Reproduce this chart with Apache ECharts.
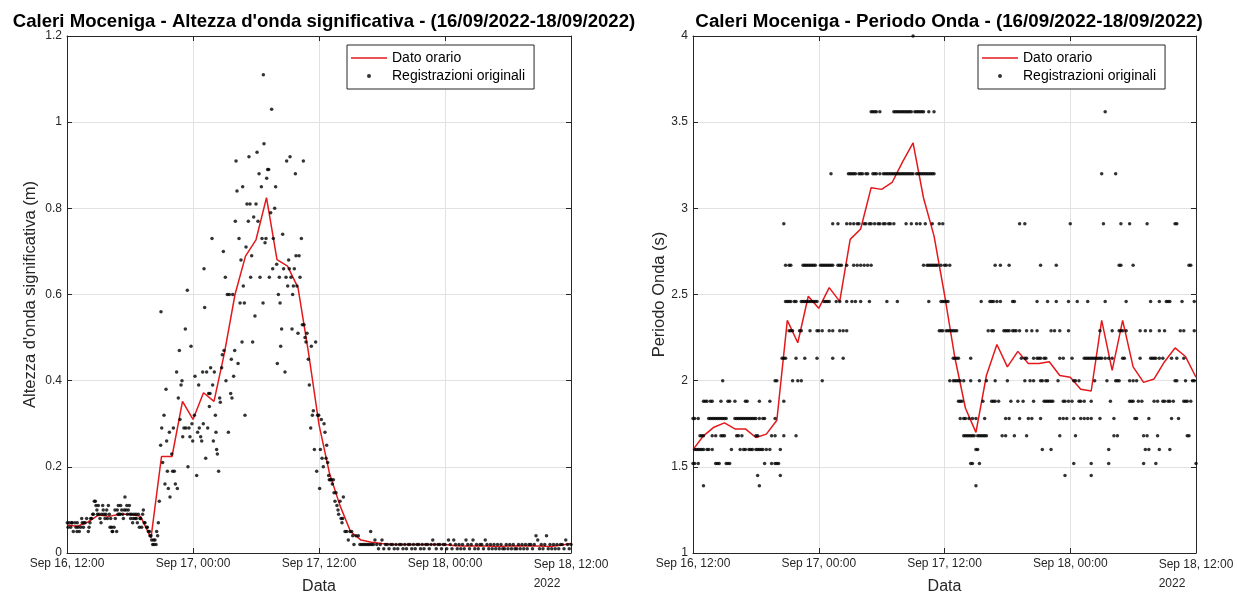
<!DOCTYPE html>
<html><head><meta charset="utf-8">
<script src="https://cdn.jsdelivr.net/npm/echarts@6/dist/echarts.min.js"></script>
<style>html,body{margin:0;padding:0;background:#fff}#c{width:1237px;height:592px}</style>
</head><body><div id="c"></div><script>
// ---------- DATA ----------
const titleLeft = "Caleri Moceniga - Altezza d'onda significativa - (16/09/2022-18/09/2022)";
const titleRight = "Caleri Moceniga - Periodo Onda - (16/09/2022-18/09/2022)";
const xTickLabels = ['Sep 16, 12:00', 'Sep 17, 00:00', 'Sep 17, 12:00', 'Sep 18, 00:00', 'Sep 18, 12:00'];
const yearLabel = '2022';
const seriesNames = ['Dato orario', 'Registrazioni originali'];

// hourly values, hour 0 = 16/09 12:00
const hsHourly = [0.065,0.062,0.072,0.088,0.085,0.09,0.09,0.085,0.035,0.224,0.224,0.352,0.31,0.372,0.352,0.465,0.60,0.689,0.727,0.825,0.681,0.666,0.616,0.465,0.298,0.185,0.11,0.05,0.03,0.025,0.022,0.02,0.02,0.02,0.02,0.02,0.02,0.017,0.016,0.016,0.016,0.015,0.016,0.017,0.016,0.016,0.015,0.018,0.022];
const tpHourly = [1.60,1.68,1.73,1.755,1.72,1.72,1.67,1.69,1.77,2.35,2.22,2.49,2.42,2.54,2.46,2.82,2.88,3.12,3.11,3.15,3.27,3.38,3.06,2.84,2.50,2.13,1.84,1.70,2.03,2.21,2.08,2.17,2.10,2.10,2.11,2.03,2.02,1.95,1.94,2.35,2.06,2.35,2.08,1.99,2.01,2.11,2.19,2.14,2.02];

// original records, significant height: [hour, value]
const hsEarly = [[0.03,.07],[0.1,.06],[0.22,.07],[0.35,.06],[0.44,.07],[0.5,.07],[0.6,.05],[0.76,.07],[0.86,.06],[0.95,.05],[0.98,.07],[1.05,.06],[1.17,.05],[1.3,.06],[1.4,.08],[1.45,.07],[1.56,.06],[1.6,.07],[1.71,.07],[1.87,.08],[2.03,.05],[2.1,.06],[2.19,.07],[2.25,.08],[2.35,.08],[2.45,.09],[2.51,.09],[2.6,.12],[2.7,.12],[2.76,.11],[2.85,.1],[2.89,.09],[2.98,.11],[3.05,.09],[3.14,.08],[3.24,.07],[3.3,.09],[3.4,.11],[3.45,.1],[3.52,.09],[3.62,.08],[3.7,.09],[3.78,.1],[3.85,.08],[3.94,.11],[4.03,.09],[4.1,.06],[4.16,.08],[4.25,.06],[4.3,.05],[4.35,.05],[4.48,.06],[4.57,.1],[4.6,.08],[4.73,.05],[4.79,.1],[4.85,.09],[4.89,.11],[4.98,.09],[5.05,.09],[5.11,.11],[5.21,.1],[5.3,.09],[5.37,.08],[5.45,.1],[5.52,.13],[5.62,.1],[5.7,.11],[5.75,.09],[5.84,.1],[5.94,.11],[6.0,.09],[6.06,.08],[6.16,.09],[6.25,.07],[6.3,.08],[6.38,.09],[6.48,.08],[6.57,.09],[6.6,.08],[6.7,.07],[6.79,.09],[6.89,.06],[6.95,.08],[7.02,.08],[7.11,.06],[7.2,.09],[7.27,.1],[7.35,.07],[7.43,.07],[7.59,.06],[7.65,.06],[7.75,.05],[7.85,.05],[7.9,.04],[8.0,.04],[8.06,.03],[8.16,.02],[8.25,.03],[8.29,.02],[8.38,.03],[8.48,.02],[8.54,.05],[8.63,.04],[8.7,.07]];
const hsRise = [[8.79,.12],[8.92,.25],[8.95,.56],[9.02,.29],[9.11,.21],[9.24,.32],[9.33,.16],[9.43,.38],[9.49,.26],[9.56,.19],[9.65,.15],[9.75,.28],[9.81,.13],[9.97,.23],[10.06,.19],[10.13,.29],[10.22,.19],[10.32,.16],[10.44,.42],[10.51,.15],[10.6,.36],[10.7,.47],[10.76,.31],[10.86,.39],[10.95,.4],[11.02,.27],[11.14,.29],[11.27,.52],[11.33,.29],[11.46,.61],[11.52,.2],[11.62,.29],[11.71,.27],[11.81,.48],[11.9,.3],[11.97,.26],[12.13,.32],[12.19,.41],[12.35,.18],[12.44,.28],[12.54,.39],[12.6,.29],[12.73,.27],[12.83,.26],[12.92,.42],[12.98,.3],[13.05,.66],[13.11,.57],[13.21,.22],[13.3,.42],[13.4,.29],[13.49,.37],[13.56,.34],[13.62,.37],[13.68,.43],[13.81,.73],[13.87,.39],[13.94,.26],[14.03,.42],[14.13,.32],[14.19,.28],[14.25,.24],[14.32,.23],[14.44,.19],[14.54,.36],[14.6,.35],[14.73,.43],[14.79,.46],[14.89,.7],[14.95,.47],[15.08,.64],[15.14,.4],[15.27,.6],[15.37,.28],[15.46,.6],[15.59,.37],[15.65,.45],[15.71,.36],[15.78,.6],[15.87,.41],[15.97,.47],[16.03,.77],[16.1,.91],[16.19,.84],[16.29,.44],[16.38,.73],[16.48,.58],[16.57,.68],[16.67,.49],[16.73,.85],[16.79,.62],[16.89,.58],[16.95,.32],[17.05,.71],[17.14,.81],[17.27,.77],[17.33,.92],[17.43,.81],[17.49,.64],[17.59,.69],[17.68,.49],[17.78,.78],[17.9,.55],[18.0,.81],[18.1,.93],[18.19,.77],[18.29,.88],[18.38,.64],[18.51,.85],[18.57,.73],[18.67,.58],[18.7,1.11],[18.76,.95],[18.86,.72],[18.95,.73],[19.02,.87],[19.11,.89],[19.21,.89],[19.27,.64],[19.4,.79],[19.49,1.03],[19.59,.66],[19.65,.73],[19.78,.8],[19.87,.85]];
const hsFall = [[19.97,.67],[20.03,.44],[20.13,.6],[20.22,.64],[20.29,.58],[20.35,.48],[20.44,.52],[20.54,.74],[20.63,.66],[20.76,.42],[20.86,.64],[20.92,.91],[21.02,.62],[21.11,.68],[21.17,.66],[21.24,.92],[21.33,.64],[21.43,.52],[21.49,.6],[21.56,.62],[21.65,.66],[21.75,.88],[21.81,.69],[21.9,.62],[22.0,.51],[22.1,.69],[22.19,.64],[22.32,.73],[22.41,.53],[22.51,.91],[22.57,.53],[22.67,.5],[22.76,.49],[22.86,.51],[22.98,.45],[23.08,.39],[23.21,.29],[23.27,.48],[23.37,.32],[23.46,.33],[23.56,.24],[23.68,.49],[23.78,.19],[23.87,.32],[23.97,.32],[24.06,.15],[24.13,.24],[24.22,.31],[24.29,.22],[24.41,.2],[24.48,.3],[24.57,.28],[24.67,.22],[24.73,.25],[24.83,.21],[24.92,.18],[24.98,.17],[25.08,.17],[25.17,.17],[25.27,.16],[25.37,.17],[25.43,.14],[25.52,.12],[25.62,.14],[25.71,.11],[25.81,.1],[25.87,.09],[26.0,.12],[26.1,.08],[26.19,.07],[26.25,.08],[26.32,.13],[26.48,.05],[26.63,.05],[26.79,.03],[26.95,.05],[27.11,.05],[27.21,.04],[27.33,.02],[27.52,.04],[27.75,.04],[27.9,.02],[28.06,.02],[28.22,.02],[28.38,.02],[28.54,.02],[28.7,.02],[28.86,.02],[28.92,.05],[29.02,.02],[29.18,.02],[29.33,.03]];
// tail: one record every 10 minutes from hour 29.5
const hsTailStart = 29.5;
const hsTail = [.02,.01,.02,.03,.01,.02, .02,.01,.02,.02,.01,.02, .01,.02,.02,.01,.02,.01, .02,.02,.01,.02,.01,.02, .02,.01,.02,.01,.02,.02, .01,.02,.03,.02,.01,.02, .02,.01,.02,.02,.01,.03, .02,.01,.03,.02,.01,.02, .01,.02,.01,.03,.02,.01, .02,.03,.01,.02,.01,.02, .02,.01,.03,.02,.01,.02, .01,.02,.01,.02,.01,.02, .01,.01,.02,.01,.02,.01, .02,.01,.01,.02,.01,.02, .01,.02,.01,.02,.02,.01, .02,.04,.03,.01,.02,.01, .02,.04,.01,.02,.01,.02, .01,.02,.01,.02,.02,.01, .03,.02,.01,.02];

// original records, wave period: 10-minute record indices (from 16/09 12:00) per period level
const tpLevels = [4.0, 3.56, 3.2, 2.91, 2.67, 2.46, 2.29, 2.13, 2.0, 1.88, 1.78, 1.68, 1.6, 1.52, 1.45, 1.39];
const tp400 = [126];
const tp356 = [102,103,104,105,107,115,116,117,118,119,120,121,122,123,124,125,127,128,129,130,131,132,135,138,236];
const tp320 = [79,89,90,91,92,93,95,96,97,99,100,103,104,105,107,109,110,111,112,113,114,115,116,117,118,119,120,121,122,123,124,125,126,128,129,130,131,132,133,134,135,136,137,138,234,242];
const tp291 = [52,80,83,88,90,92,94,95,98,99,101,102,104,106,107,109,110,112,113,115,122,125,128,130,133,137,141,143,187,190,216,235,245,250,260,276,277];
const tp267 = [53,55,56,63,64,65,66,67,68,69,70,73,74,75,76,77,78,79,80,83,84,85,88,92,94,96,98,100,102,132,134,135,136,137,138,139,140,142,144,145,147,173,176,181,199,208,244,245,252,284,285];
const tp246 = [53,54,55,56,58,59,62,63,64,65,66,67,68,69,70,71,75,76,77,78,82,84,88,91,93,96,101,111,117,135,142,143,144,145,146,165,170,171,172,174,176,183,184,197,203,208,215,220,226,236,248,262,267,271,272,273,280,287];
const tp229 = [55,56,57,61,62,67,71,72,74,78,80,84,86,88,141,142,143,145,146,147,148,149,150,151,169,171,172,178,179,180,181,183,184,185,187,191,194,197,205,207,210,215,233,240,244,245,246,248,256,259,262,267,270,279,281,287];
const tp213 = [51,52,53,59,64,71,80,86,149,150,151,152,159,188,190,191,195,197,198,199,201,202,210,212,217,224,225,226,227,228,229,230,231,232,233,234,236,238,240,246,247,256,262,263,264,265,267,269,274,277,281];
const tp200 = [17,47,48,57,60,62,74,147,149,150,151,152,153,155,159,164,168,173,180,190,193,195,199,200,202,203,209,218,219,221,230,237,242,243,244,250,252,254,276,277,282,286,287];
const tp188 = [6,7,8,10,11,16,20,21,24,30,31,38,44,52,152,153,154,166,171,172,173,175,182,186,189,195,201,202,203,204,205,206,212,213,215,217,221,222,224,228,239,250,251,252,255,257,264,266,269,270,272,273,275,281,282,283,285];
const tp178 = [0,1,3,9,10,11,12,13,14,15,16,17,18,19,24,25,26,27,28,29,30,31,32,33,34,35,36,38,40,41,47,153,155,156,158,160,162,167,179,181,187,192,194,199,210,212,214,218,222,224,226,228,233,241,253,254,261,274,278];
const tp168 = [4,5,6,11,13,16,17,18,25,26,28,36,37,45,47,52,59,155,156,157,158,159,160,161,163,164,165,166,167,168,177,179,184,191,210,219,241,243,258,260,266,283,284];
const tp160 = [1,2,3,4,5,6,8,9,11,22,27,29,30,32,33,34,36,37,38,39,40,42,44,50,162,163,200,205,238,259,261,267,273];
const tp152 = [0,1,3,13,14,15,19,20,21,41,45,47,48,49,159,160,164,218,228,238,258,265,288];
const tp145 = [37,50,213,228];
const tp139 = [6,38,162];
const tpRecordsByLevel = [tp400,tp356,tp320,tp291,tp267,tp246,tp229,tp213,tp200,tp188,tp178,tp168,tp160,tp152,tp145,tp139];

// ---------- BUILD ----------
const hsDots = hsEarly.concat(hsRise, hsFall, hsTail.map((v, i) => [hsTailStart + i / 6, v]));
const tpDots = [];
tpRecordsByLevel.forEach((list, k) => list.forEach(idx => tpDots.push([idx / 6, tpLevels[k]])));

const FONT = '"Liberation Sans", Arial, Helvetica, sans-serif';
const AX = '#262626';
const GRIDC = '#e2e2e2';
const RED = '#e3191c';

function xLabel(v) {
  const i = Math.round(v / 12);
  if (i === 4) return '{a|' + xTickLabels[i] + '}\n{b|' + yearLabel + '}';
  return xTickLabels[i];
}
function xAxes(gi) {
  return [{
    gridIndex: gi, type: 'value', min: 0, max: 48, interval: 12, position: 'bottom',
    axisLine: { show: true, onZero: false, lineStyle: { color: AX, width: 1 } },
    axisTick: { show: true, inside: true, length: 5, lineStyle: { color: AX } },
    axisLabel: { show: true, margin: 5, color: AX, fontFamily: FONT, fontSize: 12, formatter: xLabel,
      rich: { a: { fontFamily: FONT, fontSize: 12, color: AX, lineHeight: 14 }, b: { fontFamily: FONT, fontSize: 12, color: AX, align: 'left', lineHeight: 24 } } },
    splitLine: { show: true, lineStyle: { color: GRIDC, width: 1 } },
    name: 'Data', nameLocation: 'middle', nameGap: 26, nameMoveOverlap: false,
    nameTextStyle: { fontFamily: FONT, fontSize: 16, color: AX }
  }, {
    gridIndex: gi, type: 'value', min: 0, max: 48, interval: 12, position: 'top',
    axisLine: { show: true, onZero: false, lineStyle: { color: AX, width: 1 } },
    axisTick: { show: true, inside: true, length: 5, lineStyle: { color: AX } },
    axisLabel: { show: false }, splitLine: { show: false }
  }];
}
function yAxes(gi, min, max, interval, name, gap) {
  return [{
    gridIndex: gi, type: 'value', min: min, max: max, interval: interval, position: 'left',
    axisLine: { show: true, onZero: false, lineStyle: { color: AX, width: 1 } },
    axisTick: { show: true, inside: true, length: 5, lineStyle: { color: AX } },
    axisLabel: { show: true, margin: 5, color: AX, fontFamily: FONT, fontSize: 12 },
    splitLine: { show: true, lineStyle: { color: GRIDC, width: 1 } },
    name: name, nameLocation: 'middle', nameGap: gap, nameMoveOverlap: false,
    nameTextStyle: { fontFamily: FONT, fontSize: 16.5, color: AX }
  }, {
    gridIndex: gi, type: 'value', min: min, max: max, interval: interval, position: 'right',
    axisLine: { show: true, onZero: false, lineStyle: { color: AX, width: 1 } },
    axisTick: { show: true, inside: true, length: 5, lineStyle: { color: AX } },
    axisLabel: { show: false }, splitLine: { show: false }
  }];
}
function legendAt(left) {
  return {
    data: [
      { name: seriesNames[0], icon: 'path://M0,0 L36,0 L36,1.5 L0,1.5 Z' },
      { name: seriesNames[1], icon: 'circle' }
    ],
    orient: 'vertical', left: left, top: 45,
    itemWidth: 36, itemHeight: 4, itemGap: 4,
    padding: [6, 9, 6, 4], borderColor: AX, borderWidth: 1, backgroundColor: '#fff',
    selectedMode: false,
    textStyle: { fontFamily: FONT, fontSize: 14, color: '#000' }
  };
}

const chart = echarts.init(document.getElementById('c'), null, { renderer: 'canvas' });
chart.setOption({
  animation: false,
  backgroundColor: '#fff',
  title: [
    { text: titleLeft, left: 319, top: 7, textAlign: 'center', textStyle: { fontFamily: FONT, fontWeight: 'bold', fontSize: 18.6, color: '#000' } },
    { text: titleRight, left: 944, top: 7, textAlign: 'center', textStyle: { fontFamily: FONT, fontWeight: 'bold', fontSize: 18.8, color: '#000' } }
  ],
  legend: [legendAt(347), legendAt(978)],
  grid: [
    { left: 67, top: 36, width: 504, height: 517, outerBoundsMode: 'none', containLabel: false },
    { left: 693, top: 36, width: 503, height: 517, outerBoundsMode: 'none', containLabel: false }
  ],
  xAxis: xAxes(0).concat(xAxes(1)),
  yAxis: yAxes(0, 0, 1.2, 0.2, "Altezza d'onda significativa (m)", 28).concat(yAxes(1, 1, 4, 0.5, 'Periodo Onda (s)', 25)),
  series: [
    { name: seriesNames[0], type: 'line', xAxisIndex: 0, yAxisIndex: 0, data: hsHourly.map((v, i) => [i, v]),
      symbol: 'none', lineStyle: { color: RED, width: 1.5 }, itemStyle: { color: RED }, z: 2 },
    { name: seriesNames[1], type: 'scatter', xAxisIndex: 0, yAxisIndex: 0, data: hsDots,
      symbol: 'circle', symbolSize: 3.5, itemStyle: { color: '#000' }, z: 3 },
    { name: seriesNames[0], type: 'line', xAxisIndex: 2, yAxisIndex: 2, data: tpHourly.map((v, i) => [i, v]),
      symbol: 'none', lineStyle: { color: RED, width: 1.5 }, itemStyle: { color: RED }, z: 2 },
    { name: seriesNames[1], type: 'scatter', xAxisIndex: 2, yAxisIndex: 2, data: tpDots,
      symbol: 'circle', symbolSize: 3.5, itemStyle: { color: '#000' }, z: 3, clip: false }
  ]
});
</script></body></html>
